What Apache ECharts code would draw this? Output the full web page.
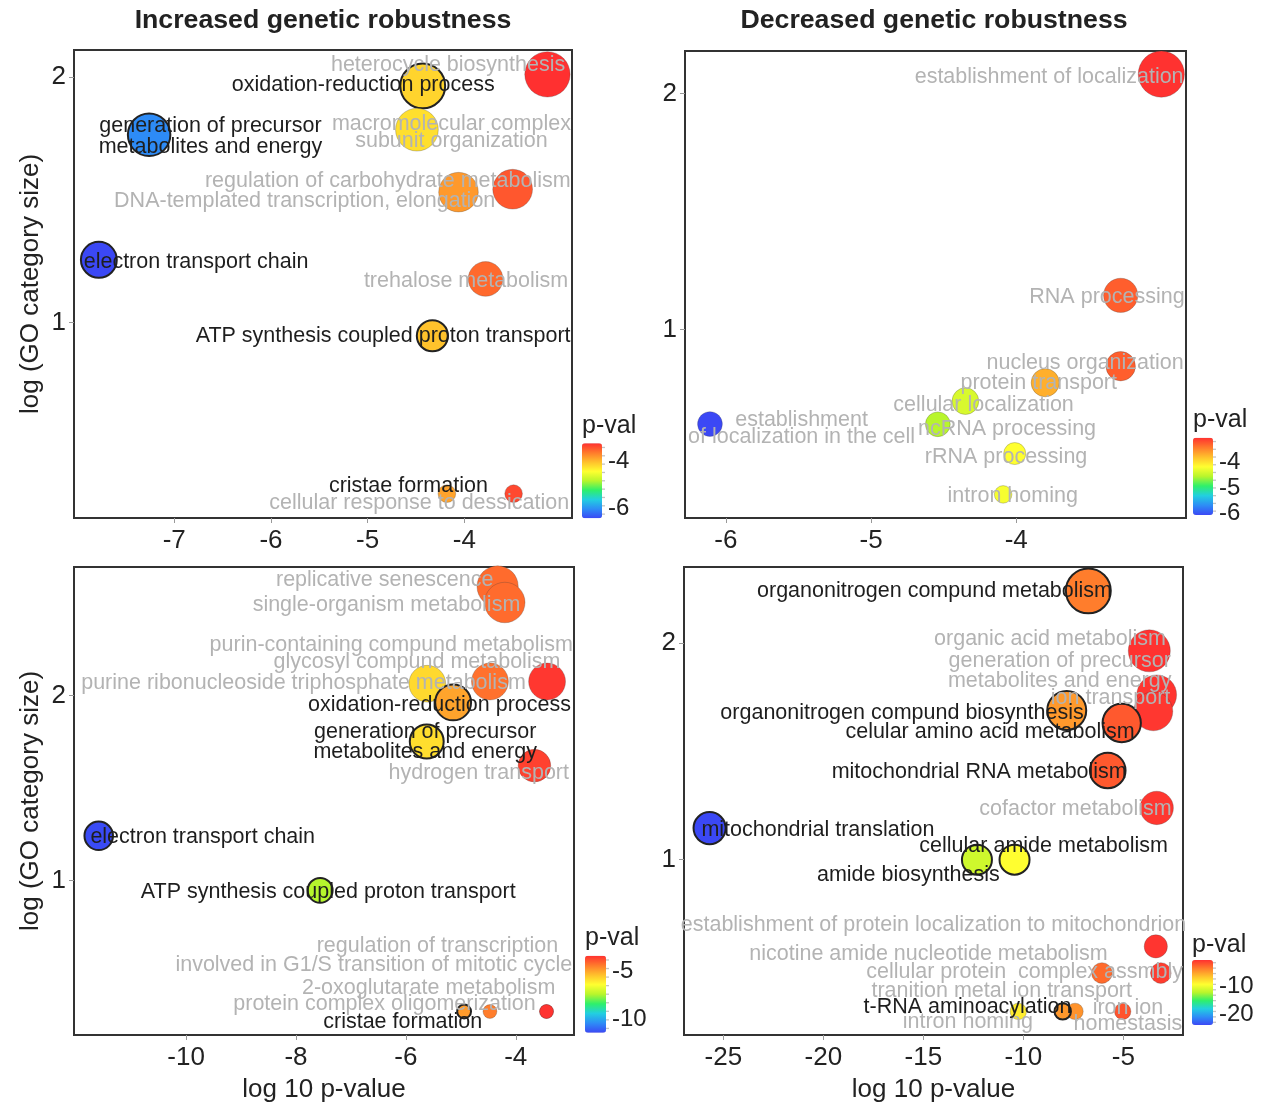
<!DOCTYPE html>
<html><head><meta charset="utf-8">
<script src="https://cdn.jsdelivr.net/npm/echarts@6/dist/echarts.min.js"></script>
<style>html,body{margin:0;padding:0;background:#fff}#c{width:1281px;height:1105px}</style>
</head><body><div id="c"></div><script>
// ---------------- DATA ----------------
// Panel 1: Increased genetic robustness (top)
const p1Terms = ['heterocycle biosynthesis','oxidation-reduction process','macromolecular complex\nsubunit organization','generation of precursor\nmetabolites and energy','regulation of carbohydrate metabolism','DNA-templated transcription, elongation','electron transport chain','trehalose metabolism','ATP synthesis coupled proton transport','cristae formation','cellular response to dessication'];
const p1LogP = [-3.14,-4.43,-4.49,-7.26,-3.50,-4.06,-7.78,-3.78,-4.33,-4.18,-3.49];
const p1LogSize = [2.010,1.963,1.785,1.764,1.543,1.531,1.256,1.178,0.947,0.305,0.305];
const p1Pval = [-3.21,-4.14,-4.21,-6.04,-3.42,-3.79,-6.43,-3.52,-4.03,-3.85,-3.34];

// Panel 2: Decreased genetic robustness (top)
const p2Terms = ['establishment of localization','RNA processing','nucleus organization','protein transport','cellular localization','ncRNA processing','establishment\nof localization in the cell','rRNA processing','intron homing'];
const p2LogP = [-3.00,-3.28,-3.28,-3.80,-4.35,-4.54,-6.11,-4.01,-4.09];
const p2LogSize = [2.082,1.145,0.845,0.775,0.697,0.599,0.600,0.475,0.302];
const p2Pval = [-3.02,-3.25,-3.25,-3.68,-4.37,-4.54,-6.07,-4.16,-4.20];

// Panel 3: Increased genetic robustness (bottom)
const p3Terms = ['replicative senescence','single-organism metabolism','purin-containing compund metabolism','glycosyl compund metabolism','purine ribonucleoside triphosphate metabolism','oxidation-reduction process','generation of precursor\nmetabolites and energy','hydrogen transport','electron transport chain','ATP synthesis coupled proton transport','regulation of transcription\ninvolved in G1/S transition of mitotic cycle','2-oxoglutarate metabolism','protein complex oligomerization','cristae formation'];
const p3LogP = [-4.33,-4.20,-3.43,-4.47,-5.61,-5.14,-5.62,-3.66,-11.59,-7.56,-3.44,-3.44,-4.47,-4.94];
const p3LogSize = [2.591,2.504,2.077,2.077,2.065,1.964,1.753,1.622,1.243,0.948,0.293,0.293,0.293,0.293];
const p3Pval = [-4.12,-4.12,-3.40,-4.20,-5.75,-4.94,-5.83,-3.55,-11.40,-7.40,-3.35,-3.35,-4.37,-4.80];

// Panel 4: Decreased genetic robustness (bottom)
const p4Terms = ['organonitrogen compund metabolism','organic acid metabolism','generation of precursor\nmetabolites and energy','ion transport','organonitrogen compund biosynthesis','celular amino acid metabolism','mitochondrial RNA metabolism','cofactor metabolism','mitochondrial translation','amide biosynthesis','cellular amide metabolism','establishment of protein localization to mitochondrion','nicotine amide nucleotide metabolism','cellular protein  complex assmbly','intron homing','tranition metal ion transport','t-RNA aminoacylation','iron ion\nhomestasis'];
const p4LogP = [-6.75,-3.70,-3.33,-3.50,-7.83,-5.08,-5.78,-3.33,-25.69,-12.32,-10.44,-3.375,-6.07,-3.125,-10.25,-7.415,-8.03,-5.03];
const p4LogSize = [2.241,1.964,1.761,1.685,1.689,1.631,1.412,1.239,1.146,1.000,1.000,0.600,0.477,0.477,0.300,0.300,0.300,0.300];
const p4Pval = [-3.79,-0.90,-1.00,-1.10,-4.94,-2.40,-2.40,-1.10,-23.80,-11.40,-9.40,-1.00,-3.10,-1.30,-8.60,-4.70,-4.90,-2.20];

// tick labels
const p1XTicks = [-7,-6,-5,-4], p2XTicks = [-6,-5,-4], p3XTicks = [-10,-8,-6,-4], p4XTicks = [-25,-20,-15,-10,-5];
const yTicks = [1,2];
const p1LegendTicks = [-4,-6], p2LegendTicks = [-4,-5,-6], p3LegendTicks = [-5,-10], p4LegendTicks = [-10,-20];
const colorRange = [[-6.43,-3.21],[-6.07,-3.01],[-11.45,-3.31],[-23.8,-0.81]];

// ---------------- STYLE / LAYOUT ----------------
// label style: [dx, dy, kind, lineHeight, align, firstLinePad] kind 0 = grey label, 1 = dark label + ring, 2 = dark label, no ring
const p1LabelStyle = [[-99.4,-10.3,0],[-59.5,-2.7,1],[34.5,1.7,0,17],[61.3,0.5,1,21],[-124.9,-10,0],[-153.8,7,0],[97.2,1,1],[-19.5,0.7,0],[-49.3,-1,1],[-38.5,-9,2],[-94.4,8.3,0]];
const p2LabelStyle = [[-112.2,1,0],[-13.7,0,0],[-35.6,-4.3,0],[-6.5,-1.6,0],[18.2,2,0],[69.2,3.3,0],[91.6,2.9,0,17.7],[-8.7,1.7,0],[9.6,0,0]];
const p3LabelStyle = [[-112.9,-7.7,0],[-118.3,0.6,0],[-155.8,-38.4,0],[-73,-20.7,0],[-123.8,-2.3,0],[-13.6,1.3,1],[-1.6,-1,1,20],[-55.7,5.7,0],[104,0,1],[8.1,0,1],[25.6,-57.2,0,19,'right',14],[-117.9,-25,0],[-105.5,-8.7,0],[-61.4,9,1]];
const p4LabelStyle = [[-153.8,-1,1],[-99.3,-13.7,0],[-97,-25.3,0,20.7],[-42.8,-15,0],[-164.7,1,1],[-131.7,7.4,1],[-128.5,0,1],[-81.2,0,0],[108.3,0,1],[-68.6,14,1],[29.1,-15,1],[-222.3,-22.7,0],[-173.4,-20.6,0],[-136.2,-2.3,0],[-50.5,9.4,0],[-73.3,-21.7,0],[-95.2,-6,1],[5.2,3,0,16]];
const LABEL_DY = 1.5;

const FONT = '"Liberation Sans", Arial, Helvetica, sans-serif';
const GREY = '#b3b3b3', DARK = '#1e1e1e';
const COLORS = ['#3b48f5','#2d8df6','#22cfe0','#2ef06a','#b8f52c','#ffff30','#ffc02c','#ff7a2c','#ff3030'];

const grids = [
  {left:74, top:50, width:498, height:468},
  {left:685, top:51, width:501, height:467},
  {left:74, top:567, width:500, height:468},
  {left:684, top:567, width:499, height:468}
];
const xRanges = [[-8.037,-2.886],[-6.282,-2.83],[-12.04,-2.94],[-26.97,-2.015]];
const yRanges = [[0.206,2.109],[0.202,2.18],[0.166,2.696],[0.191,2.351]];
const sizeK = [16,16,12.8,15];
const legends = [
  {x:582, top:443.3, w:20, h:75, titleY:426, ticks:p1LegendTicks, n:9},
  {x:1193, top:437.7, w:20, h:77.3, titleY:420, ticks:p2LegendTicks, n:10},
  {x:585, top:955.7, w:21, h:77, titleY:938, ticks:p3LegendTicks, n:9},
  {x:1192, top:960, w:21, h:65, titleY:945, ticks:p4LegendTicks, n:12}
];

const panels = [
  {terms:p1Terms, x:p1LogP, y:p1LogSize, p:p1Pval, ls:p1LabelStyle, xt:p1XTicks},
  {terms:p2Terms, x:p2LogP, y:p2LogSize, p:p2Pval, ls:p2LabelStyle, xt:p2XTicks},
  {terms:p3Terms, x:p3LogP, y:p3LogSize, p:p3Pval, ls:p3LabelStyle, xt:p3XTicks},
  {terms:p4Terms, x:p4LogP, y:p4LogSize, p:p4Pval, ls:p4LabelStyle, xt:p4XTicks}
];

const xAxes = [], yAxes = [], series = [], visualMaps = [], graphics = [];
const LFS = 21.5;

panels.forEach((pn, i) => {
  xAxes.push({
    type:'value', gridIndex:i, min:xRanges[i][0], max:xRanges[i][1],
    axisLine:{show:false}, splitLine:{show:false},
    axisTick:{show:true, length:5, lineStyle:{color:'#999', width:1}, customValues:pn.xt},
    axisLabel:{fontFamily:FONT, fontSize:26, color:'#222', margin:10, customValues:pn.xt},
    name: i >= 2 ? 'log 10 p-value' : '', nameLocation:'middle', nameGap:42,
    nameTextStyle:{fontFamily:FONT, fontSize:26, color:'#222'}
  });
  yAxes.push({
    type:'value', gridIndex:i, min:yRanges[i][0], max:yRanges[i][1],
    axisLine:{show:false}, splitLine:{show:false},
    axisTick:{show:true, length:5, lineStyle:{color:'#999', width:1}, customValues:yTicks},
    axisLabel:{fontFamily:FONT, fontSize:26, color:'#222', margin:8, customValues:yTicks},
    name: (i % 2 === 0) ? 'log (GO category size)' : '', nameLocation:'middle', nameGap:30,
    nameTextStyle:{fontFamily:FONT, fontSize:26, color:'#222'}
  });
  const k = sizeK[i];
  series.push({
    type:'scatter', xAxisIndex:i, yAxisIndex:i, animation:false,
    symbolSize: v => 2 * k * Math.sqrt(v[1]),
    emphasis:{disabled:true},
    data: pn.terms.map((t, j) => {
      const st = pn.ls[j];
      const kind = st[2];
      const lab = {
        show:true, position:'inside', offset:[st[0], st[1] + LABEL_DY], formatter:'{b}',
        color: kind ? DARK : GREY, fontFamily:FONT, fontSize:LFS,
        lineHeight: st[3] || 20, align: st[4] || 'center', verticalAlign:'middle',
        textBorderWidth:0
      };
      if (st[4] === 'right') {
        const lines = t.split('\n');
        lab.formatter = '{a|' + lines[0] + '}\n{b|' + lines[1] + '}';
        lab.rich = {
          a:{color:GREY, fontFamily:FONT, fontSize:LFS, lineHeight:st[3], padding:[0, st[5], 0, 0]},
          b:{color:GREY, fontFamily:FONT, fontSize:LFS, lineHeight:st[3]}
        };
      }
      return {
        name:t, value:[pn.x[j], pn.y[j], pn.p[j]],
        itemStyle: kind === 1 ? {borderColor:'#222', borderWidth:2, opacity:1}
                              : {borderColor:'rgba(60,60,60,0.45)', borderWidth:0.6, opacity:1},
        label: lab
      };
    })
  });
  const L = legends[i];
  visualMaps.push({
    type:'continuous', seriesIndex:i, dimension:2,
    min:colorRange[i][0], max:colorRange[i][1],
    inRange:{color:COLORS}, calculable:false, orient:'vertical',
    left:L.x, top:L.top, itemWidth:L.w, itemHeight:L.h, padding:0, text:null,
    hoverLink:false
  });
  graphics.push({type:'text', x:L.x, y:L.titleY, silent:true,
    style:{text:'p-val', font:'25px ' + FONT, fill:'#222', textAlign:'left', textVerticalAlign:'middle', align:'left', verticalAlign:'middle'}});
  const [mn, mx] = colorRange[i];
  for (let m = 0; m < L.n; m++) {
    const yy = L.top + (m + 0.5) * L.h / L.n;
    graphics.push({type:'line', silent:true, shape:{x1:L.x + L.w - 3, y1:yy, x2:L.x + L.w + 3, y2:yy},
      style:{stroke:'#c4c4c4', lineWidth:1.3}});
  }
  L.ticks.forEach(v => {
    const yy = L.top + (mx - v) / (mx - mn) * L.h;
    graphics.push({type:'text', x:L.x + L.w + 6, y:yy, silent:true,
      style:{text:String(v), font:'24px ' + FONT, fill:'#222', textAlign:'left', textVerticalAlign:'middle', align:'left', verticalAlign:'middle'}});
  });
});

graphics.push({type:'text', x:323, y:21, silent:true,
  style:{text:'Increased genetic robustness', font:'bold 26.7px ' + FONT, fill:'#222', textAlign:'center', textVerticalAlign:'middle', align:'center', verticalAlign:'middle'}});
graphics.push({type:'text', x:934, y:21, silent:true,
  style:{text:'Decreased genetic robustness', font:'bold 26.7px ' + FONT, fill:'#222', textAlign:'center', textVerticalAlign:'middle', align:'center', verticalAlign:'middle'}});

const chart = echarts.init(document.getElementById('c'), null, {renderer:'canvas'});
chart.setOption({
  animation:false,
  backgroundColor:'#fff',
  grid: grids.map(g => Object.assign({show:true, borderColor:'#333', borderWidth:2, backgroundColor:'rgba(0,0,0,0)'}, g)),
  xAxis:xAxes, yAxis:yAxes, series:series, visualMap:visualMaps, graphic:graphics
});
</script></body></html>
